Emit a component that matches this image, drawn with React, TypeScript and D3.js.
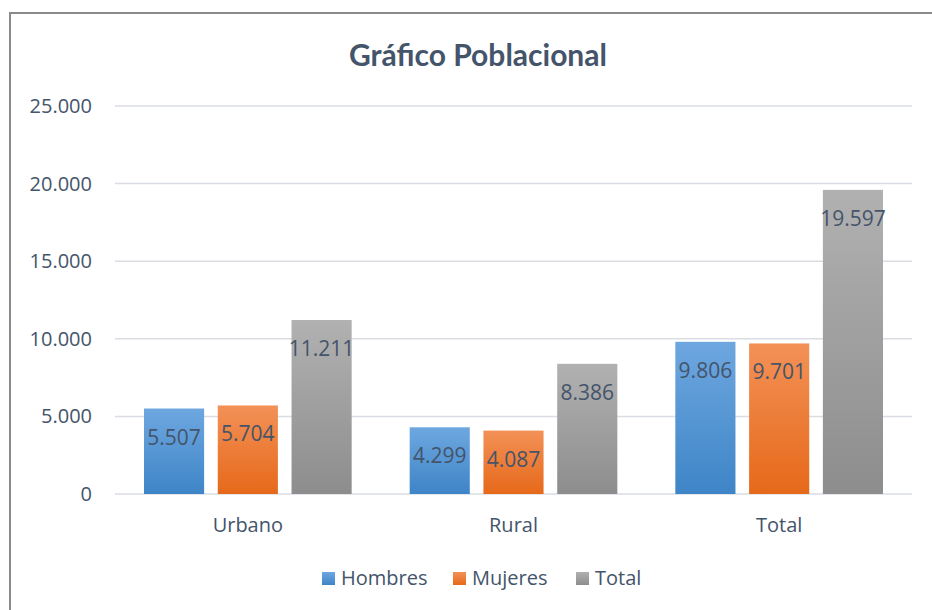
import React, { useEffect, useRef } from 'react';
import * as d3 from 'd3';

const categories = ['Urbano', 'Rural', 'Total'];
const seriesNames = ['Hombres', 'Mujeres', 'Total'];
const hombres = [5507, 4299, 9806];
const mujeres = [5704, 4087, 9701];
const totales = [11211, 8386, 19597];
const yTicks = [0, 5000, 10000, 15000, 20000, 25000];

const colors = [
  { top: '#6ea7e0', bottom: '#3e85c7' },
  { top: '#f39157', bottom: '#e6691a' },
  { top: '#b1b1b1', bottom: '#8d8d8d' },
];

const fmt = (v: number) => d3.format(',')(v).replace(/,/g, '.');

const App = () => {
  const svgRef = useRef<SVGSVGElement>(null);

  useEffect(() => {
    const svg = d3.select(svgRef.current);
    svg.selectAll('*').remove();

    const width = 932;
    const height = 610;
    const margin = { top: 106, right: 20, bottom: 116, left: 115 };
    const font = '"Open Sans", sans-serif';
    const titleFont = 'Lato, sans-serif';
    const textColor = '#44546a';

    const defs = svg.append('defs');
    colors.forEach((c, i) => {
      const g = defs.append('linearGradient')
        .attr('id', `grad${i}`)
        .attr('x1', 0).attr('y1', 0).attr('x2', 0).attr('y2', 1);
      g.append('stop').attr('offset', '0%').attr('stop-color', c.top);
      g.append('stop').attr('offset', '100%').attr('stop-color', c.bottom);
    });

    // frame
    svg.append('rect')
      .attr('x', 10).attr('y', 13)
      .attr('width', width + 20).attr('height', height + 20)
      .attr('fill', '#fff')
      .attr('stroke', '#8a8a8a')
      .attr('stroke-width', 2);

    svg.append('text')
      .attr('x', 478)
      .attr('y', 66)
      .attr('text-anchor', 'middle')
      .attr('font-family', titleFont)
      .attr('font-weight', 'bold')
      .attr('font-size', '30px')
      .attr('fill', textColor)
      .text('Gráfico Poblacional');

    const innerW = width - margin.left - margin.right;
    const innerH = height - margin.top - margin.bottom;
    const g = svg.append('g').attr('transform', `translate(${margin.left},${margin.top})`);

    const x = d3.scaleBand().domain(categories).range([0, innerW]).paddingInner(0).paddingOuter(0);
    const x1 = d3.scaleBand().domain(seriesNames.map((_, i) => String(i))).range([29, x.bandwidth() - 29]).paddingInner(0.185);
    const y = d3.scaleLinear().domain([0, 25000]).range([innerH, 0]);

    // gridlines
    g.selectAll('.grid')
      .data(yTicks)
      .enter()
      .append('line')
      .attr('x1', 0).attr('x2', innerW)
      .attr('y1', d => y(d)).attr('y2', d => y(d))
      .attr('stroke', '#d9dde3')
      .attr('stroke-width', 1.5);

    g.selectAll('.ylab')
      .data(yTicks)
      .enter()
      .append('text')
      .attr('x', -23)
      .attr('y', d => y(d))
      .attr('dy', '0.35em')
      .attr('text-anchor', 'end')
      .attr('font-family', font)
      .attr('font-size', '20px')
      .attr('fill', textColor)
      .text(d => fmt(d));

    const series = [hombres, mujeres, totales];
    series.forEach((vals, si) => {
      const grp = g.append('g');
      grp.selectAll('rect')
        .data(vals)
        .enter()
        .append('rect')
        .attr('x', (d, i) => (x(categories[i]) || 0) + (x1(String(si)) || 0))
        .attr('y', d => y(d))
        .attr('width', x1.bandwidth())
        .attr('height', d => innerH - y(d))
        .attr('fill', `url(#grad${si})`);
      grp.selectAll('text')
        .data(vals)
        .enter()
        .append('text')
        .attr('x', (d, i) => (x(categories[i]) || 0) + (x1(String(si)) || 0) + x1.bandwidth() / 2)
        .attr('y', d => y(d) + 36)
        .attr('text-anchor', 'middle')
        .attr('font-family', font)
        .attr('font-size', '21px')
        .attr('fill', textColor)
        .text(d => fmt(d));
    });

    g.selectAll('.xlab')
      .data(categories)
      .enter()
      .append('text')
      .attr('x', d => (x(d) || 0) + x.bandwidth() / 2)
      .attr('y', innerH + 38)
      .attr('text-anchor', 'middle')
      .attr('font-family', font)
      .attr('font-size', '20px')
      .attr('fill', textColor)
      .text(d => d);

    // legend
    const legendX = [322, 453, 576];
    const legend = svg.append('g');
    seriesNames.forEach((name, i) => {
      legend.append('rect')
        .attr('x', legendX[i]).attr('y', 572)
        .attr('width', 13).attr('height', 13)
        .attr('fill', `url(#grad${i})`);
      legend.append('text')
        .attr('x', legendX[i] + 19)
        .attr('y', 585)
        .attr('font-family', font)
        .attr('font-size', '20px')
        .attr('fill', textColor)
        .text(name);
    });
  }, []);

  return (
    <svg ref={svgRef} width={932} height={610} style={{ position: 'absolute', left: 0, top: 0 }} />
  );
};

export default App;
